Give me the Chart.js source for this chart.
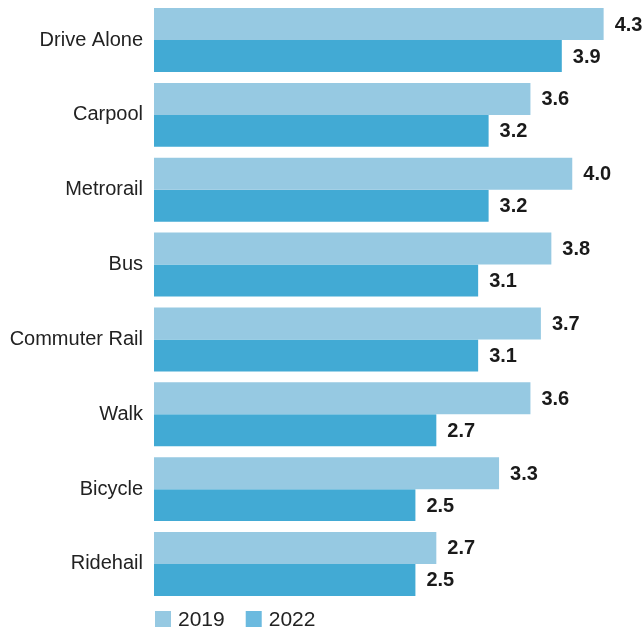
<!DOCTYPE html>
<html>
<head>
<meta charset="utf-8">
<script src="https://cdn.jsdelivr.net/npm/chart.js@4.4.1/dist/chart.umd.min.js"></script>
<style>
html,body{margin:0;padding:0;background:#fff;}
#wrap{position:relative;width:644px;height:631px;}
</style>
</head>
<body>
<div id="wrap"><canvas id="c" width="644" height="631"></canvas></div>
<script>
const categories = ["Drive Alone","Carpool","Metrorail","Bus","Commuter Rail","Walk","Bicycle","Ridehail"];
const values2019 = [4.3, 3.6, 4.0, 3.8, 3.7, 3.6, 3.3, 2.7];
const values2022 = [3.9, 3.2, 3.2, 3.1, 3.1, 2.7, 2.5, 2.5];
const seriesLabels = ["2019", "2022"];

const color2019 = "#96c9e2";
const color2022 = "#42aad4";
const legendColors = ["#96c9e2", "#6bbadf"];

const valueLabels = {
  id: "valueLabels",
  afterDatasetsDraw(chart) {
    const ctx = chart.ctx;
    ctx.save();
    ctx.font = "bold 20px 'Liberation Sans', Arial, sans-serif";
    ctx.fillStyle = "#1a1a1a";
    ctx.textBaseline = "middle";
    ctx.textAlign = "left";
    chart.data.datasets.forEach((ds, i) => {
      const meta = chart.getDatasetMeta(i);
      meta.data.forEach((bar, j) => {
        ctx.fillText(ds.data[j].toFixed(1), bar.x + 11, bar.y + 1);
      });
    });
    ctx.restore();
  }
};

const customLegend = {
  id: "customLegend",
  afterDraw(chart) {
    const ctx = chart.ctx;
    ctx.save();
    ctx.font = "21px 'Liberation Sans', Arial, sans-serif";
    ctx.textBaseline = "middle";
    ctx.textAlign = "left";
    let x = chart.chartArea.left + 1;
    const y = 619;
    chart.data.datasets.forEach((ds, i) => {
      ctx.fillStyle = legendColors[i];
      ctx.fillRect(x, y - 8, 16, 16);
      ctx.fillStyle = "#222";
      ctx.fillText(ds.label, x + 23, y + 1);
      x += 23 + ctx.measureText(ds.label).width + 21;
    });
    ctx.restore();
  }
};

new Chart(document.getElementById("c"), {
  type: "bar",
  data: {
    labels: categories,
    datasets: [
      { label: seriesLabels[0], data: values2019, backgroundColor: color2019 },
      { label: seriesLabels[1], data: values2022, backgroundColor: color2022 }
    ]
  },
  options: {
    indexAxis: "y",
    responsive: false,
    animation: false,
    devicePixelRatio: 1,
    layout: { padding: { top: 2.6, bottom: 29.6, left: 0, right: 9 } },
    datasets: { bar: { categoryPercentage: 0.855, barPercentage: 1.0, borderWidth: 0 } },
    plugins: { legend: { display: false }, tooltip: { enabled: false } },
    scales: {
      x: { display: false, min: 0, max: 4.6 },
      y: {
        grid: { display: false, drawTicks: false },
        border: { display: false },
        ticks: {
          padding: 11,
          color: "#222",
          font: { family: "'Liberation Sans', Arial, sans-serif", size: 20 }
        },
        afterFit(scale) { scale.width = 154; scale.paddingTop = 0; scale.paddingBottom = 0; }
      }
    }
  },
  plugins: [valueLabels, customLegend]
});
</script>
</body>
</html>
